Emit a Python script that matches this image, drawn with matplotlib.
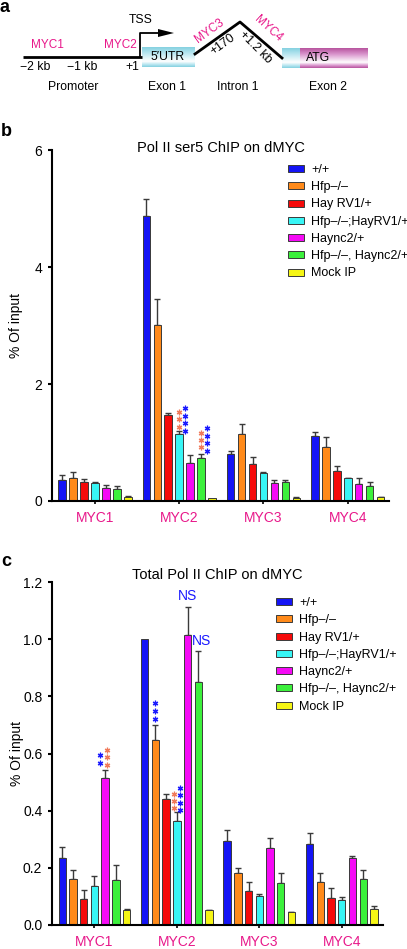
import numpy as np
import matplotlib
matplotlib.use('Agg')
import matplotlib.pyplot as plt

plt.rcParams['font.family'] = ['Liberation Sans', 'DejaVu Sans']

# ---- data ----
groups = ['MYC1', 'MYC2', 'MYC3', 'MYC4']
genotypes = ['+/+', 'Hfp\u2013/\u2013', 'Hay RV1/+', 'Hfp\u2013/\u2013;HayRV1/+',
             'Haync2/+', 'Hfp\u2013/\u2013, Haync2/+', 'Mock IP']
bar_colors = ['#1414f5', '#ff8a1a', '#f50a0a', '#38f5f5', '#f50af5', '#3cf03c', '#f5f514']

# Pol II ser5 ChIP (% of input), one list per genotype over MYC1..MYC4
ser5_wt = [0.36, 4.87, 0.81, 1.11]
ser5_hfp = [0.385, 3.01, 1.14, 0.93]
ser5_rv1 = [0.32, 1.47, 0.64, 0.51]
ser5_hfp_rv1 = [0.31, 1.15, 0.48, 0.385]
ser5_nc2 = [0.22, 0.655, 0.30, 0.29]
ser5_hfp_nc2 = [0.21, 0.74, 0.32, 0.26]
ser5_mock = [0.07, 0.05, 0.05, 0.06]
ser5_wt_err = [0.08, 0.29, 0.04, 0.07]
ser5_hfp_err = [0.115, 0.44, 0.18, 0.17]
ser5_rv1_err = [0.05, 0.04, 0.11, 0.08]
ser5_hfp_rv1_err = [0.02, 0.05, 0.01, 0.005]
ser5_nc2_err = [0.05, 0.135, 0.06, 0.095]
ser5_hfp_nc2_err = [0.04, 0.06, 0.04, 0.06]
ser5_mock_err = [0.02, 0.0, 0.01, 0.005]

# Total Pol II ChIP (% of input)
tot_wt = [0.233, 1.0, 0.295, 0.285]
tot_hfp = [0.162, 0.647, 0.181, 0.151]
tot_rv1 = [0.092, 0.442, 0.12, 0.095]
tot_hfp_rv1 = [0.138, 0.365, 0.101, 0.087]
tot_nc2 = [0.513, 1.014, 0.27, 0.233]
tot_hfp_nc2 = [0.158, 0.849, 0.147, 0.16]
tot_mock = [0.052, 0.051, 0.044, 0.055]
tot_wt_err = [0.041, 0.0, 0.036, 0.038]
tot_hfp_err = [0.03, 0.053, 0.019, 0.032]
tot_rv1_err = [0.031, 0.016, 0.032, 0.033]
tot_hfp_rv1_err = [0.034, 0.029, 0.008, 0.01]
tot_nc2_err = [0.031, 0.10, 0.033, 0.007]
tot_hfp_nc2_err = [0.052, 0.111, 0.034, 0.032]
tot_mock_err = [0.004, 0.002, 0.002, 0.01]

# significance asterisks: (group, bar, x offset, colour, y positions)
SALMON = '#f07a5a'
BLUE = '#1a1aff'
stars_ser5 = [
    (1, 3, 0.0, SALMON, [1.27, 1.396, 1.527]),
    (1, 3, 0.064, BLUE, [1.202, 1.328, 1.459, 1.585]),
    (1, 5, 0.0, SALMON, [0.918, 1.043, 1.168]),
    (1, 5, 0.064, BLUE, [0.86, 0.986, 1.117, 1.243]),
]
stars_tot = [
    (0, 4, 0.017, SALMON, [0.559, 0.587, 0.612]),
    (0, 4, -0.064, BLUE, [0.566, 0.594]),
    (1, 3, -0.036, SALMON, [0.408, 0.434, 0.460]),
    (1, 3, 0.036, BLUE, [0.402, 0.428, 0.455, 0.478]),
    (1, 1, 0.0, BLUE, [0.72, 0.748, 0.775]),
]
# NS labels: (group, bar, x offset, y)
ns_tot = [(1, 4, 0.0, 1.15), (1, 5, 0.04, 0.993)]

MAGENTA = '#e8188a'
PITCH = 0.13
WIDTH = 0.09
EDGE = '#3a3a3a'

W, H = 407, 949
fig = plt.figure(figsize=(W / 100, H / 100), dpi=100)


def px_axes(left, top, right, bottom):
    return fig.add_axes([left / W, 1 - bottom / H, (right - left) / W, (bottom - top) / H])


def draw_bars(ax, series, errors, stars, ns, xlim, ylim, yticks, ylabels,
              title, title_y, leg_anchor):
    x0 = np.arange(len(groups))
    for i, (vals, err) in enumerate(zip(series, errors)):
        x = x0 + (i - 3) * PITCH
        ax.bar(x, vals, width=WIDTH, color=bar_colors[i], edgecolor=EDGE,
               linewidth=0.7, label=genotypes[i], zorder=2)
        vals = np.array(vals)
        err = np.array(err)
        m = err > 0
        ax.errorbar(x[m], vals[m], yerr=[np.zeros(m.sum()), err[m]], fmt='none',
                    ecolor=EDGE, elinewidth=1.0, capsize=2, capthick=1.0, zorder=1)
    for g, b, dx, col, ys in stars:
        xs = [g + (b - 3) * PITCH + dx] * len(ys)
        ax.plot(xs, ys, linestyle='none', marker=(6, 2, 0), markersize=4,
                markeredgewidth=0.9, color=col, zorder=3, clip_on=False)
    for g, b, dx, y in ns:
        ax.text(g + (b - 3) * PITCH + dx, y, 'NS', color=BLUE, fontsize=10,
                ha='center', va='center')
    ax.set_xlim(*xlim)
    ax.set_ylim(*ylim)
    ax.set_yticks(yticks)
    ax.set_yticklabels(ylabels, fontsize=10)
    ax.set_xticks(x0)
    ax.set_xticklabels(groups, fontsize=10, color=MAGENTA)
    for s in ['top', 'right']:
        ax.spines[s].set_visible(False)
    for s in ['left', 'bottom']:
        ax.spines[s].set_linewidth(1.5)
    ax.tick_params(axis='y', length=3, width=1.5, pad=4)
    ax.tick_params(axis='x', length=2.5, width=1.2, pad=5)
    ax.set_ylabel('% Of input', fontsize=10)
    ax.yaxis.set_label_coords(-0.085, 0.5)
    ax.text(0.5, title_y, title, transform=ax.transAxes, ha='center',
            va='center', fontsize=10.5)
    ax.legend(loc='upper left', bbox_to_anchor=(leg_anchor[0] / W, 1 - leg_anchor[1] / H),
              bbox_transform=fig.transFigure, frameon=False, fontsize=9,
              handlelength=1.3, handleheight=0.5, handletextpad=0.55,
              labelspacing=0.42, borderpad=0, borderaxespad=0)


# ---- panel a: gene diagram ----
axd = px_axes(0, 0, W, 110)
axd.set_xlim(0, W)
axd.set_ylim(110, 0)
axd.axis('off')


def gradient_box(ax, x0, x1, y0, y1, dark, mid):
    stops = [0, 0.3, 0.72, 0.88, 1]
    cols = [dark, mid, (1, 1, 1), mid, dark]
    t = np.linspace(0, 1, 64)
    img = np.zeros((64, 1, 3))
    for k in range(3):
        img[:, 0, k] = np.interp(t, stops, [c[k] for c in cols])
    ax.imshow(img, extent=[x0, x1, y1, y0], aspect='auto', interpolation='bilinear', zorder=1)


cyan_dark = (0.52, 0.82, 0.88)
cyan_mid = (0.72, 0.9, 0.94)
mag_dark = (0.72, 0.33, 0.62)
mag_mid = (0.85, 0.58, 0.8)

axd.plot([23, 142], [57, 57], color='black', lw=2, solid_capstyle='butt')
axd.plot([140, 140, 160], [57, 33, 33], color='black', lw=1.3)
axd.fill([158, 174, 158], [29, 33, 37], color='black', lw=0)
axd.plot([195, 240, 282], [54, 22, 58], color='black', lw=2)
gradient_box(axd, 142, 195, 47, 67, cyan_dark, cyan_mid)
gradient_box(axd, 282, 300, 48, 68, cyan_dark, cyan_mid)
gradient_box(axd, 300, 368, 48, 68, mag_dark, mag_mid)
axd.set_xlim(0, W)
axd.set_ylim(110, 0)

fs = 8.8
axd.text(0, 8, 'a', fontsize=13, fontweight='bold', va='center', ha='left')
axd.text(141, 20, 'TSS', fontsize=fs, ha='center', va='center')
axd.text(47, 45, 'MYC1', fontsize=8.5, color=MAGENTA, ha='center', va='center')
axd.text(120, 45, 'MYC2', fontsize=8.5, color=MAGENTA, ha='center', va='center')
axd.text(35, 67, '\u22122 kb', fontsize=fs, ha='center', va='center')
axd.text(82, 67, '\u22121 kb', fontsize=fs, ha='center', va='center')
axd.text(132, 67, '+1', fontsize=fs, ha='center', va='center')
axd.text(168, 57, '5\u2032UTR', fontsize=fs, ha='center', va='center', zorder=3)
axd.text(318, 58, 'ATG', fontsize=fs, ha='center', va='center', zorder=3)
axd.text(209, 31, 'MYC3', fontsize=8.5, color=MAGENTA, ha='center', va='center', rotation=36)
axd.text(223, 44, '+170', fontsize=fs, ha='center', va='center', rotation=36)
axd.text(268, 29, 'MYC4', fontsize=8.5, color=MAGENTA, ha='center', va='center', rotation=-42)
axd.text(255, 47, '+1.2 kb', fontsize=fs, ha='center', va='center', rotation=-45)
axd.text(73, 87, 'Promoter', fontsize=fs, ha='center', va='center')
axd.text(167, 87, 'Exon 1', fontsize=fs, ha='center', va='center')
axd.text(238, 87, 'Intron 1', fontsize=fs, ha='center', va='center')
axd.text(328, 87, 'Exon 2', fontsize=fs, ha='center', va='center')

# ---- panel b ----
axb = px_axes(52, 150, 389, 501)
draw_bars(axb,
          [ser5_wt, ser5_hfp, ser5_rv1, ser5_hfp_rv1, ser5_nc2, ser5_hfp_nc2, ser5_mock],
          [ser5_wt_err, ser5_hfp_err, ser5_rv1_err, ser5_hfp_rv1_err, ser5_nc2_err,
           ser5_hfp_nc2_err, ser5_mock_err],
          stars_ser5, [], (-0.51, 3.49), (0, 6), [0, 2, 4, 6], ['0', '2', '4', '6'],
          'Pol II ser5 ChIP on dMYC', 1.005, (288, 164))
fig.text(1 / W, 1 - 131 / H, 'b', fontsize=13, fontweight='bold', va='center', ha='left')

# ---- panel c ----
axc = px_axes(52, 582, 383, 925)
draw_bars(axc,
          [tot_wt, tot_hfp, tot_rv1, tot_hfp_rv1, tot_nc2, tot_hfp_nc2, tot_mock],
          [tot_wt_err, tot_hfp_err, tot_rv1_err, tot_hfp_rv1_err, tot_nc2_err,
           tot_hfp_nc2_err, tot_mock_err],
          stars_tot, ns_tot, (-0.515, 3.5), (0, 1.2),
          [0, 0.2, 0.4, 0.6, 0.8, 1.0, 1.2],
          ['0.0', '0.2', '0.4', '0.6', '0.8', '1.0', '1.2'],
          'Total Pol II ChIP on dMYC', 1.02, (276, 597))
fig.text(1 / W, 1 - 561 / H, 'c', fontsize=13, fontweight='bold', va='center', ha='left')

fig.savefig('out.png', dpi=100)
